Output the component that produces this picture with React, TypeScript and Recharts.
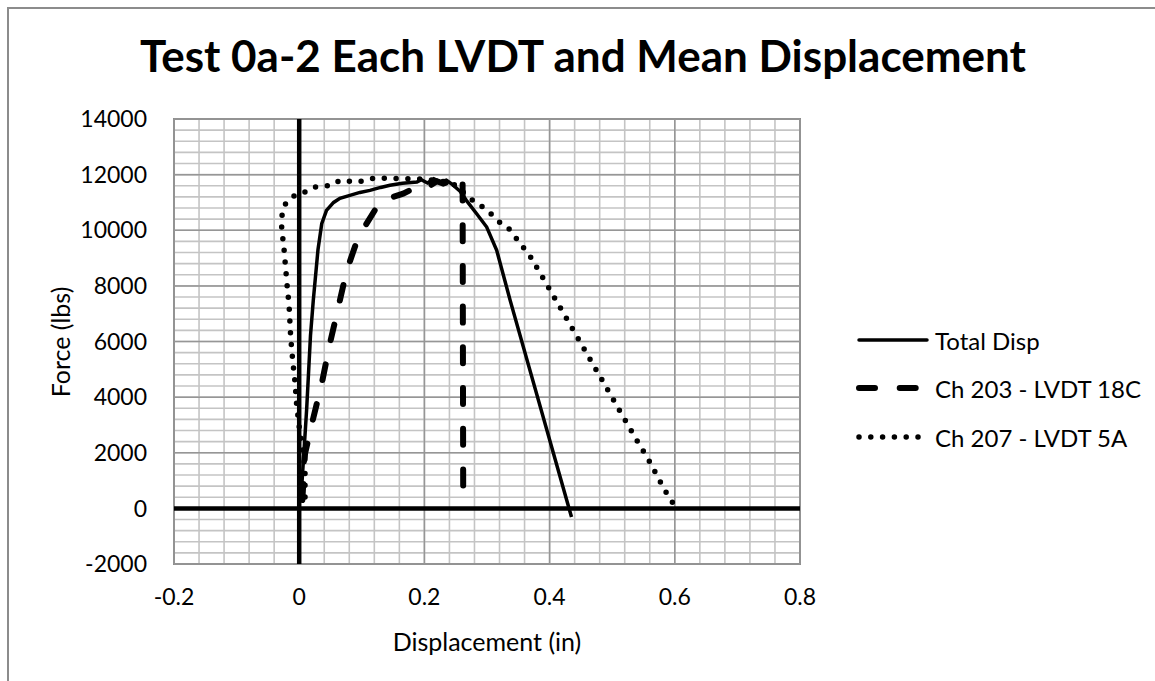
import React from "react"
import {
  LineChart,
  Line,
  XAxis,
  YAxis,
  CartesianGrid,
  ReferenceLine,
  ReferenceArea,
} from "recharts"

// [displacement (in), force (lbs)]
const totalDisp: [number, number][] = [
  [0.001, 250],
  [0.004, 766],
  [0.012, 3600],
  [0.018, 6200],
  [0.0225, 7480],
  [0.03, 9300],
  [0.036, 10237],
  [0.0436, 10715],
  [0.055, 11000],
  [0.065, 11150],
  [0.081, 11255],
  [0.097, 11360],
  [0.113, 11435],
  [0.13, 11540],
  [0.145, 11615],
  [0.165, 11690],
  [0.188, 11733],
  [0.195, 11820],
  [0.205, 11700],
  [0.215, 11850],
  [0.225, 11740],
  [0.235, 11800],
  [0.245, 11640],
  [0.257, 11400],
  [0.267, 11075],
  [0.285, 10550],
  [0.2995, 10115],
  [0.3155, 9277],
  [0.337, 7479],
  [0.435, -313],
]

const ch203: [number, number][] = [
  [0.005, 300],
  [0.0093, 1967],
  [0.0216, 3164],
  [0.036, 4484],
  [0.049, 5920],
  [0.065, 7480],
  [0.076, 8558],
  [0.0944, 9757],
  [0.124, 10835],
  [0.134, 11075],
  [0.15, 11200],
  [0.166, 11315],
  [0.182, 11495],
  [0.198, 11680],
  [0.21, 11620],
  [0.22, 11760],
  [0.23, 11675],
  [0.245, 11800],
  [0.261, 11900],
  [0.262, 290],
]

const ch207: [number, number][] = [
  [0.0093, 406],
  [0.0093, 1248],
  [0.0066, 1967],
  [0.0013, 2686],
  [-0.004, 3704],
  [-0.0067, 4540],
  [-0.0104, 5322],
  [-0.0136, 6160],
  [-0.0163, 7360],
  [-0.0184, 7778],
  [-0.02, 8200],
  [-0.0216, 8620],
  [-0.0243, 9340],
  [-0.0264, 9757],
  [-0.028, 10115],
  [-0.028, 10475],
  [-0.0243, 10870],
  [-0.0163, 11111],
  [-0.004, 11291],
  [0.0093, 11375],
  [0.025, 11555],
  [0.052, 11615],
  [0.065, 11795],
  [0.0944, 11735],
  [0.121, 11878],
  [0.161, 11855],
  [0.188, 11855],
  [0.2196, 11795],
  [0.246, 11675],
  [0.2756, 11100],
  [0.2915, 10860],
  [0.305, 10620],
  [0.318, 10320],
  [0.334, 10080],
  [0.3687, 9073],
  [0.397, 7994],
  [0.4257, 6880],
  [0.454, 5778],
  [0.482, 4686],
  [0.51, 3585],
  [0.5385, 2481],
  [0.558, 1751],
  [0.584, 650],
  [0.605, -100],
]

const majorX = [-0.2, 0, 0.2, 0.4, 0.6, 0.8]
const majorY = [-2000, 0, 2000, 4000, 6000, 8000, 10000, 12000, 14000]
const minorX = Array.from({ length: 26 }, (_, i) => Math.round((-0.2 + i * 0.04) * 100) / 100)
const minorY = Array.from({ length: 41 }, (_, i) => -2000 + i * 400)

const toPts = (arr: [number, number][]) => arr.map(([x, f]) => ({ x, f }))

const FONT = "Lato, 'Open Sans', sans-serif"
const tickStyle = { fontSize: 23, fill: "#000", fontFamily: FONT }

const LegendRow = ({ label, dash, width, top }: { label: string; dash?: string; width: number; top: number }) => (
  <div style={{ position: "absolute", left: 855, top: top - 16, height: 32, display: "flex", alignItems: "center" }}>
    <svg width={76} height={32}>
      <line x1={4} y1={16} x2={72} y2={16} stroke="#000" strokeWidth={width} strokeDasharray={dash} strokeLinecap="round" />
    </svg>
    <span style={{ fontSize: 24, marginLeft: 4, fontFamily: FONT, color: "#000" }}>{label}</span>
  </div>
)

export default function App() {
  return (
    <div style={{ position: "absolute", left: 0, top: 0, width: 1155, height: 681, background: "#fff", overflow: "hidden", fontFamily: FONT }}>
      <div style={{ position: "absolute", left: 7, top: 7, width: 1200, height: 720, border: "2px solid #8c8c8c" }} />
      <div style={{ position: "absolute", left: 0, width: 1166, top: 30, textAlign: "center", fontSize: 44, fontWeight: 700, lineHeight: "50px", color: "#000" }}>
        Test 0a-2 Each LVDT and Mean Displacement
      </div>
      <div style={{ position: "absolute", left: 60, top: 342, transform: "translate(-50%, -50%) rotate(-90deg)", fontSize: 25, whiteSpace: "nowrap", color: "#000" }}>
        Force (lbs)
      </div>
      <div style={{ position: "absolute", left: 487, top: 641, transform: "translate(-50%, -50%)", fontSize: 25, whiteSpace: "nowrap", color: "#000" }}>
        Displacement (in)
      </div>
      <div style={{ position: "absolute", left: 0, top: 0 }}>
        <LineChart width={1155} height={681} margin={{ top: 119, right: 355, bottom: 0, left: 0 }}>
          <CartesianGrid stroke="#c4c4c4" strokeWidth={1.6} horizontal vertical />
          <XAxis
            type="number"
            dataKey="x"
            domain={[-0.2, 0.8]}
            ticks={minorX}
            interval={0}
            allowDataOverflow
            axisLine={false}
            tickLine={false}
            tickSize={0}
            tickMargin={25}
            height={117}
            tick={tickStyle}
            tickFormatter={(v: number) => (majorX.includes(v) ? String(v) : "")}
          />
          <YAxis
            type="number"
            dataKey="f"
            domain={[-2000, 14000]}
            ticks={minorY}
            interval={0}
            allowDataOverflow
            axisLine={false}
            tickLine={false}
            tickSize={0}
            tickMargin={27}
            width={174}
            tick={tickStyle}
            tickFormatter={(v: number) => (majorY.includes(v) ? String(v) : "")}
          />
          {majorX.map((v) => (
            <ReferenceLine key={"mx" + v} x={v} stroke="#969696" strokeWidth={1.5} />
          ))}
          {majorY.map((v) => (
            <ReferenceLine key={"my" + v} y={v} stroke="#969696" strokeWidth={1.5} />
          ))}
          <ReferenceArea x1={-0.2} x2={0.8} y1={-2000} y2={14000} fill="none" stroke="#8c8c8c" strokeWidth={2} />
          <ReferenceLine x={0} stroke="#000" strokeWidth={4.5} />
          <ReferenceLine y={0} stroke="#000" strokeWidth={4.5} />
          <Line
            data={toPts(totalDisp)}
            dataKey="f"
            type="linear"
            stroke="#000"
            strokeWidth={3.5}
            dot={false}
            activeDot={false}
            isAnimationActive={false}
          />
          <Line
            data={toPts(ch203)}
            dataKey="f"
            type="linear"
            stroke="#000"
            strokeWidth={6}
            strokeDasharray="16 24.7"
            strokeLinecap="round"
            dot={false}
            activeDot={false}
            isAnimationActive={false}
          />
          <Line
            data={toPts(ch207)}
            dataKey="f"
            type="linear"
            stroke="#000"
            strokeWidth={5.5}
            strokeDasharray="0 11.8"
            strokeLinecap="round"
            dot={false}
            activeDot={false}
            isAnimationActive={false}
          />
        </LineChart>
      </div>
      <LegendRow label="Total Disp" width={3.5} top={340} />
      <LegendRow label="Ch 203 - LVDT 18C" width={6} dash="16 24.7" top={388} />
      <LegendRow label="Ch 207 - LVDT 5A" width={5.5} dash="0 11.8" top={437} />
    </div>
  )
}
